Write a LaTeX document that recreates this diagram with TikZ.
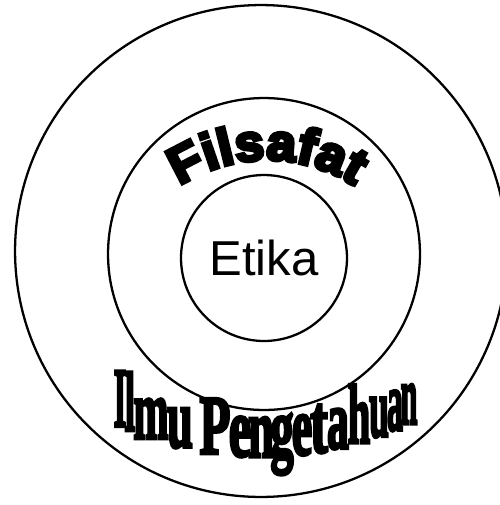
\documentclass[tikz,border=0pt]{standalone}
\usepackage{fontspec}
\usepackage{graphicx}
\setmainfont{Liberation Sans}
\newfontfamily\filfont{Liberation Sans Bold}[FakeBold=7,FakeStretch=1.02]
\newfontfamily\ilmufont{Liberation Serif Bold}[FakeBold=4]
\usetikzlibrary{decorations.text}

\begin{document}
\begin{tikzpicture}[x=0.02cm, y=-0.02cm, line width=1.3pt,
    ring/.style={circle, draw, inner sep=0pt},
    ilmu/.style={font=\ilmufont\fontsize{48}{48}\selectfont, inner sep=0pt, anchor=base}]

\useasboundingbox (0,0) rectangle (500,505);

% Lingkaran
\node[ring, minimum size=9.84cm] (ilmu) at (261,251) {};
\node[ring, minimum size=6.24cm] (filsafat) at (264,254) {};
\node[ring, minimum size=3.32cm, font=\fontsize{27.9}{27.9}\selectfont] (etika) at (264,258) {Etika};

% Filsafat
\path[decorate, decoration={text along path, text align=center,
    text={|\filfont\fontsize{29.5}{29.5}\selectfont|Filsafat}}]
  (267,320) ++(200:160) arc[start angle=200, end angle=340, radius=160];

% Ilmu Pengetahuan
\foreach \ch/\x/\s [count=\i] in {I/120/.38, l/130/.45, m/151/.5, u/180/.55, P/215/.6,
    e/240/.6, n/261/.55, g/282/.55, e/302/.55, t/319/.62, a/338/.52, h/359/.48,
    u/379/.42, a/395/.38, n/409/.36} {
  \pgfmathsetmacro{\yb}{113+100*sqrt(3.44^2-((\x-262)/100)^2)}
  \node[ilmu] (huruf\i) at (\x,\yb) {\scalebox{\s}[1]{\ch}};
}

\end{tikzpicture}
\end{document}
